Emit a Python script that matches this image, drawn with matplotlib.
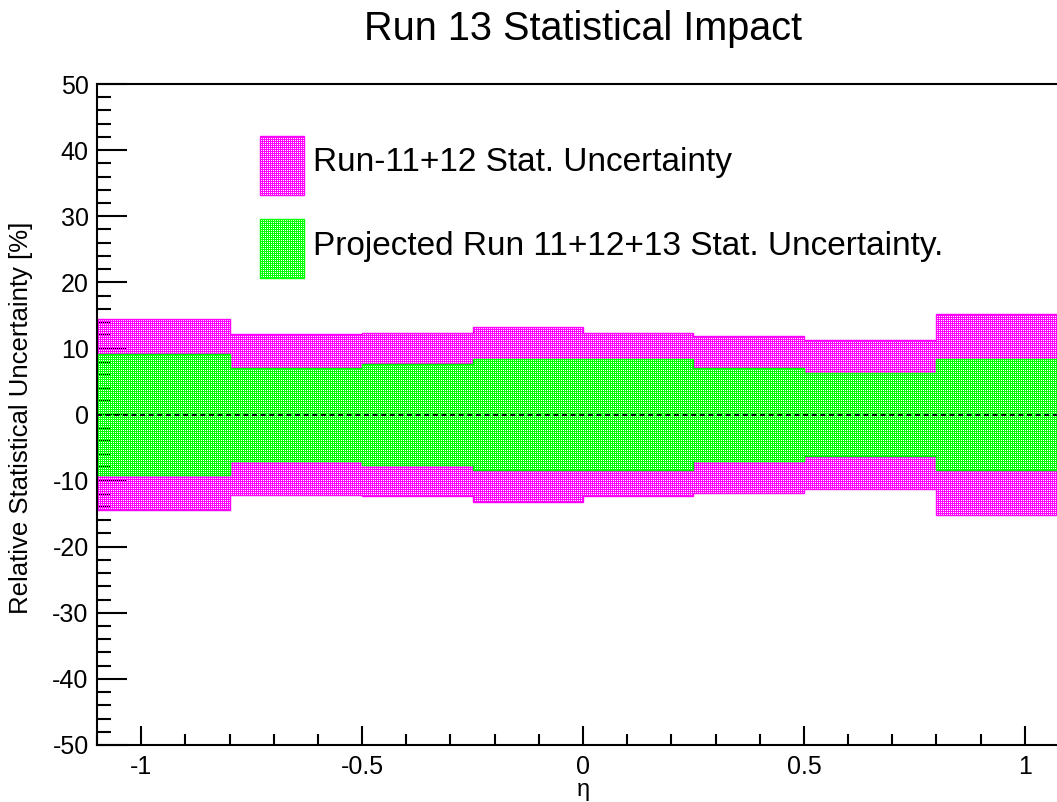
import numpy as np
import matplotlib
matplotlib.use('Agg')
import matplotlib.pyplot as plt
from matplotlib.patches import Polygon, Rectangle
from matplotlib.ticker import MultipleLocator

# eta binning and relative stat. uncertainties in percent (symmetric bands)
eta_edges = [-1.1, -0.8, -0.5, -0.25, 0.0, 0.25, 0.5, 0.8, 1.1]
run1112_unc = [14.4, 12.2, 12.4, 13.2, 12.3, 11.9, 11.3, 15.2]
proj_unc = [9.2, 7.1, 7.6, 8.4, 8.4, 7.1, 6.3, 8.4]

labels = ['Run-11+12 Stat. Uncertainty', 'Projected Run 11+12+13 Stat. Uncertainty.']
xticks = [-1, -0.5, 0, 0.5, 1]
xticklabels = ['-1', '-0.5', '0', '0.5', '1']
yticks = list(range(-50, 51, 10))

plt.rcParams['font.family'] = ['Liberation Sans', 'DejaVu Sans']
plt.rcParams['lines.scale_dashes'] = False

W, H = 1057, 802
fig = plt.figure(figsize=(W / 100, H / 100), dpi=100)
ax = fig.add_axes([97 / W, (H - 745) / H, 972 / W, 661 / H])
xlim = (eta_edges[0], eta_edges[-1])
ylim = (-50, 50)


def band(edges, vals):
    xs = np.repeat(edges, 2)[1:-1]
    ys = np.repeat(vals, 2)
    top = np.column_stack([xs, ys])
    bot = np.column_stack([xs[::-1], -ys[::-1]])
    return np.vstack([top, bot])


def checker(ax, patch, rgb, zorder):
    # ROOT style 3001 fill: coloured pixels with transparent holes
    bb = ax.get_window_extent()
    w, h = int(round(bb.width)), int(round(bb.height))
    img = np.zeros((h, w, 4))
    img[..., :3] = rgb
    img[..., 3] = 1.0
    img[::2, ::2, 3] = 0.0
    im = ax.imshow(img, extent=(*xlim, *ylim), origin='lower', aspect='auto',
                   interpolation='nearest', zorder=zorder)
    im.set_clip_path(patch)
    return im


magenta = (1.0, 0.0, 1.0)
green = (0.0, 1.0, 0.0)

p1 = Polygon(band(eta_edges, run1112_unc), closed=True, fill=False,
             edgecolor=magenta, lw=1.0, zorder=1.2)
ax.add_patch(p1)
checker(ax, p1, magenta, 1.0)

p2 = Polygon(band(eta_edges, proj_unc), closed=True, fill=False,
             edgecolor=green, lw=1.0, zorder=1.6)
ax.add_patch(p2)
checker(ax, p2, green, 1.4)

ax.plot(xlim, [0, 0], color='black', lw=1.3, ls='--', dashes=(3.6, 2.6), zorder=3)

# legend boxes in axes fraction
aw, ah = 972.0, 661.0
for i, (lab, col) in enumerate(zip(labels, [magenta, green])):
    y_top = [136, 219][i]
    r = Rectangle(((260 - 97) / aw, (745 - y_top - 59) / ah), 44 / aw, 59 / ah,
                  transform=ax.transAxes, fill=False, edgecolor=col, lw=1.0, zorder=4)
    ax.add_patch(r)
    checker(ax, r, col, 3.9)
    ax.text((313 - 97) / aw, (745 - [163, 247][i]) / ah, lab, transform=ax.transAxes,
            fontsize=24, ha='left', va='center', zorder=5)

ax.set_xlim(*xlim)
ax.set_ylim(*ylim)
ax.set_axisbelow(True)

ax.set_xticks(xticks, xticklabels)
ax.set_yticks(yticks, [str(v) for v in yticks])
ax.xaxis.set_minor_locator(MultipleLocator(0.1))
ax.yaxis.set_minor_locator(MultipleLocator(2))
ax.tick_params(axis='both', which='both', direction='in', width=1.5, labelsize=18,
               top=False, right=False, colors='black')
ax.tick_params(axis='x', which='major', length=14, pad=7)
ax.tick_params(axis='x', which='minor', length=8)
ax.tick_params(axis='y', which='major', length=21.6, pad=6)
ax.tick_params(axis='y', which='minor', length=10.3)
for s in ax.spines.values():
    s.set_linewidth(1.5)

fig.text(583 / W, 1 - 40 / H, 'Run 13 Statistical Impact', fontsize=28.5,
         ha='center', va='baseline')
fig.text(21 / W, 1 - 418 / H, 'Relative Statistical Uncertainty [%]', fontsize=18.5,
         rotation=90, ha='center', va='center')
fig.text(583 / W, 1 / H, 'η', fontsize=17, ha='center', va='bottom')

fig.savefig('out.png', dpi=100)
